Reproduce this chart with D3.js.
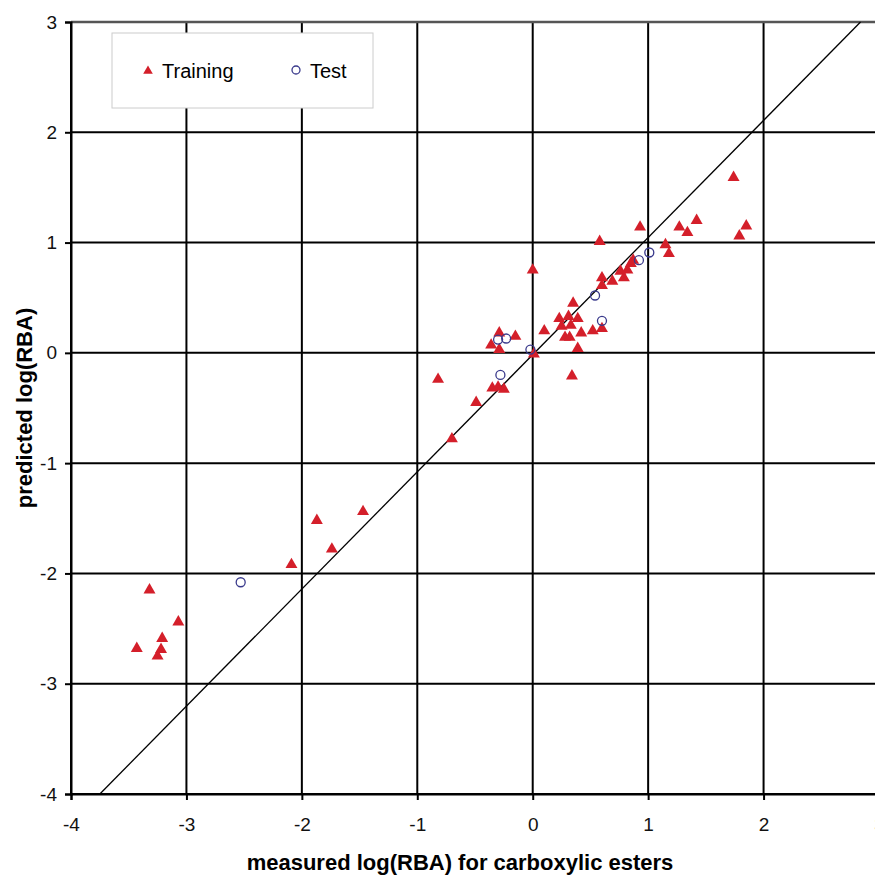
<!DOCTYPE html>
<html>
<head>
<meta charset="utf-8">
<script src="https://cdn.jsdelivr.net/npm/d3@7"></script>
<style>
  body { margin: 0; background: #fff; }
  svg { font-family: "Liberation Sans", Arial, Helvetica, sans-serif; }
</style>
</head>
<body>
<div id="chart"></div>
<script>
// measured vs predicted log(RBA)
const training = [
  [-3.32, -2.15], [-3.07, -2.44], [-3.21, -2.59], [-3.43, -2.68], [-3.22, -2.69], [-3.25, -2.75],
  [-2.09, -1.92], [-1.87, -1.52], [-1.74, -1.78], [-1.47, -1.44],
  [-0.82, -0.24], [-0.70, -0.78], [-0.49, -0.45], [-0.35, -0.32], [-0.30, -0.31], [-0.25, -0.33],
  [-0.36, 0.07], [-0.29, 0.03], [-0.29, 0.18], [-0.15, 0.15],
  [0.0, 0.75], [0.01, -0.01], [0.10, 0.20], [0.23, 0.31], [0.31, 0.33], [0.39, 0.31],
  [0.25, 0.24], [0.33, 0.25], [0.28, 0.14], [0.32, 0.14], [0.42, 0.18], [0.52, 0.20],
  [0.60, 0.22], [0.39, 0.04], [0.34, -0.21], [0.35, 0.45],
  [0.58, 1.01], [0.60, 0.68], [0.60, 0.61], [0.69, 0.65], [0.76, 0.74], [0.79, 0.68],
  [0.82, 0.75], [0.85, 0.81], [0.87, 0.84],
  [0.93, 1.14], [1.15, 0.98], [1.18, 0.90], [1.27, 1.14], [1.34, 1.09], [1.42, 1.20],
  [1.74, 1.59], [1.79, 1.06], [1.85, 1.15]
];
const test = [
  [1.01, 0.91], [0.92, 0.84], [0.54, 0.52], [0.60, 0.29], [-0.30, 0.12],
  [-0.23, 0.13], [-0.02, 0.03], [-0.28, -0.20], [-2.53, -2.08]
];
const fitLine = [[-3.75, -4], [2.84, 3]];
const xTicks = [-4, -3, -2, -1, 0, 1, 2, 3];
const yTicks = [-4, -3, -2, -1, 0, 1, 2, 3];

const W = 875, H = 875;
const margin = { top: 22, left: 71, right: -4, bottom: 81 };

const svg = d3.select("#chart").append("svg")
  .attr("width", W).attr("height", H);

const x = d3.scaleLinear().domain([-4, 3]).range([margin.left, W - margin.right]);
const y = d3.scaleLinear().domain([-4, 3]).range([H - margin.bottom, margin.top]);

const fmt = d => String(d); // plain hyphen minus like the original

// grid
svg.append("g").selectAll("line").data(xTicks).join("line")
  .attr("x1", d => x(d)).attr("x2", d => x(d))
  .attr("y1", y(3)).attr("y2", y(-4))
  .attr("stroke", "#000").attr("stroke-width", 2);
svg.append("g").selectAll("line").data(yTicks).join("line")
  .attr("x1", x(-4)).attr("x2", x(3))
  .attr("y1", d => y(d)).attr("y2", d => y(d))
  .attr("stroke", d => d === 3 ? "#555" : "#000").attr("stroke-width", d => d === 3 ? 2.5 : 2);

// axes
const xAxis = svg.append("g")
  .attr("transform", "translate(0," + y(-4) + ")")
  .call(d3.axisBottom(x).tickValues(xTicks).tickFormat(fmt).tickSize(6).tickPadding(18));
const yAxis = svg.append("g")
  .attr("transform", "translate(" + x(-4) + ",0)")
  .call(d3.axisLeft(y).tickValues(yTicks).tickFormat(fmt).tickSize(6).tickPadding(8));
[xAxis, yAxis].forEach(a => {
  a.select(".domain").attr("stroke", "#000").attr("stroke-width", 2);
  a.selectAll(".tick line").attr("stroke", "#000").attr("stroke-width", 2);
  a.selectAll("text").attr("font-size", 19).attr("fill", "#111")
    .attr("font-family", "Liberation Sans, Arial, sans-serif");
});

// diagonal
svg.append("line")
  .attr("x1", x(fitLine[0][0])).attr("y1", y(fitLine[0][1]))
  .attr("x2", x(fitLine[1][0])).attr("y2", y(fitLine[1][1]))
  .attr("stroke", "#000").attr("stroke-width", 1.3);

// points
const tri = d3.symbol().type(d3.symbolTriangle).size(62);
svg.append("g").selectAll("path").data(training).join("path")
  .attr("d", tri)
  .attr("transform", d => "translate(" + x(d[0]) + "," + y(d[1]) + ")")
  .attr("fill", "#d41f2a");

svg.append("g").selectAll("circle").data(test).join("circle")
  .attr("cx", d => x(d[0])).attr("cy", d => y(d[1])).attr("r", 4.5)
  .attr("fill", "none").attr("stroke", "#3a3a8c").attr("stroke-width", 1.3);

// legend
const lg = svg.append("g");
lg.append("rect").attr("x", 112).attr("y", 33).attr("width", 261).attr("height", 75)
  .attr("fill", "#fff").attr("stroke", "#ccc").attr("stroke-width", 1);
lg.append("path").attr("d", d3.symbol().type(d3.symbolTriangle).size(40))
  .attr("transform", "translate(148,71)").attr("fill", "#d41f2a");
lg.append("text").attr("x", 162).attr("y", 78).attr("font-size", 20).text("Training");
lg.append("circle").attr("cx", 296).attr("cy", 70).attr("r", 4)
  .attr("fill", "none").attr("stroke", "#3a3a8c").attr("stroke-width", 1.3);
lg.append("text").attr("x", 310).attr("y", 78).attr("font-size", 20).text("Test");

// titles
svg.append("text").attr("x", 460).attr("y", 870).attr("text-anchor", "middle")
  .attr("font-size", 22).attr("font-weight", "bold")
  .text("measured log(RBA) for carboxylic esters");
svg.append("text").attr("transform", "translate(32,408) rotate(-90)")
  .attr("text-anchor", "middle").attr("font-size", 22).attr("font-weight", "bold")
  .text("predicted log(RBA)");
</script>
</body>
</html>
